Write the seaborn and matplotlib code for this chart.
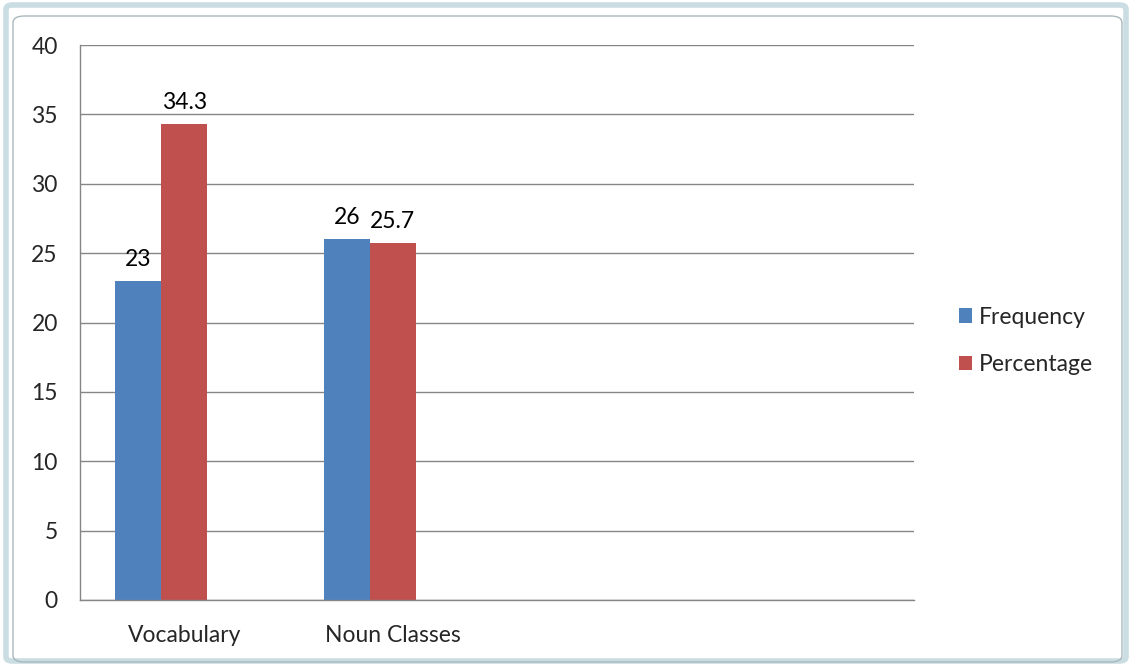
import matplotlib

matplotlib.use("Agg")
import matplotlib.pyplot as plt
import pandas as pd
import seaborn as sns
from matplotlib.patches import FancyBboxPatch

# data
categories = ["Vocabulary", "Noun Classes"]
frequency = [23, 26]
percentage = [34.3, 25.7]
series_names = ["Frequency", "Percentage"]
empty_series = " "  # the source has a third, empty series slot
n_slots = 4  # the axis has two empty category slots to the right
yticks = [0, 5, 10, 15, 20, 25, 30, 35, 40]

colors = {"Frequency": "#4F81BD", "Percentage": "#C0504D", empty_series: "#9BBB59"}
grid_col = "#868686"

df = pd.DataFrame(
    {
        "category": categories * 3,
        "series": [series_names[0]] * 2 + [series_names[1]] * 2 + [empty_series] * 2,
        "value": frequency + percentage + [float("nan")] * 2,
    }
)

sns.set_style("white")
plt.rcParams["font.family"] = ["Lato", "DejaVu Sans"]
fontsize = 16.5

fig = plt.figure(figsize=(11.32, 6.67), dpi=100)
ax = fig.add_axes([80 / 1132, 1 - 600 / 667, (914 - 80) / 1132, (600 - 45) / 667])

sns.barplot(
    data=df,
    x="category",
    y="value",
    hue="series",
    order=categories,
    hue_order=series_names + [empty_series],
    palette=colors,
    width=0.662,
    saturation=1,
    linewidth=0,
    ax=ax,
)

for cont in ax.containers:
    ax.bar_label(cont, fmt="%g", padding=8, fontsize=fontsize, color="#000000")

ax.set_xlim(-0.5, n_slots - 0.5)
ax.set_ylim(0, 40)
ax.set_yticks(yticks)
ax.set_xticks(range(len(categories)))
ax.set_xticklabels(categories)
ax.set_xticks([i - 0.5 for i in range(n_slots + 1)], minor=True)
ax.tick_params(axis="x", which="major", length=0, pad=18, labelsize=fontsize)
ax.tick_params(axis="x", which="minor", length=6, width=1, color=grid_col, direction="out")
ax.tick_params(axis="y", length=6, width=1, color=grid_col, direction="out", pad=10, labelsize=fontsize)
ax.yaxis.grid(True, color=grid_col, linewidth=1)
ax.set_axisbelow(True)
ax.set_xlabel("")
ax.set_ylabel("")
for side in ["top", "right"]:
    ax.spines[side].set_visible(False)
for side in ["left", "bottom"]:
    ax.spines[side].set_color(grid_col)
    ax.spines[side].set_linewidth(1)

handles, labels = ax.get_legend_handles_labels()
keep = [(h, l) for h, l in zip(handles, labels) if l in series_names]
ax.legend(
    [h for h, _ in keep],
    [l for _, l in keep],
    loc="center left",
    bbox_to_anchor=(938 / 1132, 1 - 341 / 667),
    bbox_transform=fig.transFigure,
    frameon=False,
    fontsize=fontsize,
    handlelength=0.6,
    handleheight=0.6,
    handletextpad=0.3,
    labelspacing=1.15,
)

# chart frame like the office selection border
fig.patches.append(
    FancyBboxPatch(
        (6 / 1132, 6 / 667), 1120 / 1132, 656 / 667,
        boxstyle="round,pad=0,rounding_size=0.006",
        transform=fig.transFigure, facecolor="none", edgecolor="#C9DDE2", linewidth=4,
    )
)
fig.patches.append(
    FancyBboxPatch(
        (13 / 1132, 5 / 667), 1109 / 1132, 646 / 667,
        boxstyle="round,pad=0,rounding_size=0.01",
        transform=fig.transFigure, facecolor="none", edgecolor="#A9B8BC", linewidth=1,
    )
)

fig.savefig("out.png", dpi=100)
